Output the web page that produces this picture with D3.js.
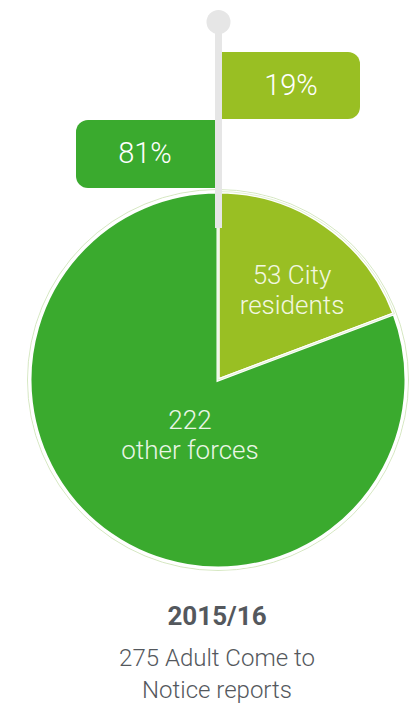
<!DOCTYPE html>
<html><head><meta charset="utf-8">
<script src="https://cdn.jsdelivr.net/npm/d3@7/dist/d3.min.js"></script>
<style>html,body{margin:0;padding:0;background:#fff;}svg{display:block;}</style>
</head><body>
<svg id="c" width="414" height="703"></svg>
<script>
const categories = ["City residents", "other forces"];
const values = [53, 222];
const percentLabels = ["19%", "81%"];
const sliceLabels = [["53 City", "residents"], ["222", "other forces"]];
const title = "2015/16";
const subtitle = ["275 Adult Come to", "Notice reports"];
const colors = ["#99bf23", "#3aaa2e"];

const svg = d3.select("#c");
const font = "Roboto, 'Helvetica Neue', Arial, sans-serif";
const cx = 218, cy = 380, R = 188;

const pie = d3.pie().sort(null).value(d => d)(values);
const arc = d3.arc().innerRadius(0).outerRadius(R);

const g = svg.append("g").attr("transform", `translate(${cx},${cy})`);
g.append("circle").attr("r", R + 2.5).attr("fill", "none").attr("stroke", "#d6e8c2").attr("stroke-width", 1);
g.selectAll("path.slice").data(pie).join("path")
  .attr("class", "slice")
  .attr("d", arc)
  .attr("fill", (d, i) => colors[i])
  .attr("stroke", "#fff").attr("stroke-width", 3);
g.append("path").attr("d", d3.arc().innerRadius(0).outerRadius(R + 0.5)(pie[0]))
  .attr("fill", "none").attr("stroke", "#dcebc9").attr("stroke-width", 0.8);

svg.append("line").attr("x1", cx + 0.5).attr("x2", cx + 0.5).attr("y1", 22).attr("y2", 228)
  .attr("stroke", "#e6e6e6").attr("stroke-width", 7);
svg.append("circle").attr("cx", cx + 0.5).attr("cy", 22).attr("r", 12).attr("fill", "#e6e6e6");

function flag(x0, x1, y0, y1, roundRight, color) {
  const r = 12;
  let p = d3.path();
  if (roundRight) {
    p.moveTo(x0, y0); p.lineTo(x1 - r, y0); p.arcTo(x1, y0, x1, y0 + r, r);
    p.lineTo(x1, y1 - r); p.arcTo(x1, y1, x1 - r, y1, r); p.lineTo(x0, y1); p.closePath();
  } else {
    p.moveTo(x1, y0); p.lineTo(x0 + r, y0); p.arcTo(x0, y0, x0, y0 + r, r);
    p.lineTo(x0, y1 - r); p.arcTo(x0, y1, x0 + r, y1, r); p.lineTo(x1, y1); p.closePath();
  }
  svg.append("path").attr("d", p.toString()).attr("fill", color);
}
flag(222, 360, 52, 119, true, colors[0]);
flag(76, 215, 120, 188, false, colors[1]);

function txt(x, y, s, size, weight, fill) {
  return svg.append("text").attr("x", x).attr("y", y).attr("text-anchor", "middle")
    .attr("font-family", font).attr("font-weight", weight).attr("font-size", size)
    .attr("fill", fill).text(s);
}
txt(291, 95, percentLabels[0], 29, 300, "#fff");
txt(145, 163, percentLabels[1], 29, 300, "#fff");

const labelPos = [[292, 284], [190, 429]];
sliceLabels.forEach((lines, i) => {
  lines.forEach((s, j) => {
    txt(labelPos[i][0], labelPos[i][1] + j * 30, s, 26, 300, i === 0 ? "#f2f7e0" : "#eaf6e6");
  });
});

txt(217, 625, title, 26, 700, "#54585d");
subtitle.forEach((s, j) => txt(217, 666 + j * 32, s, 24, 300, "#54585d"));
</script>
</body></html>
